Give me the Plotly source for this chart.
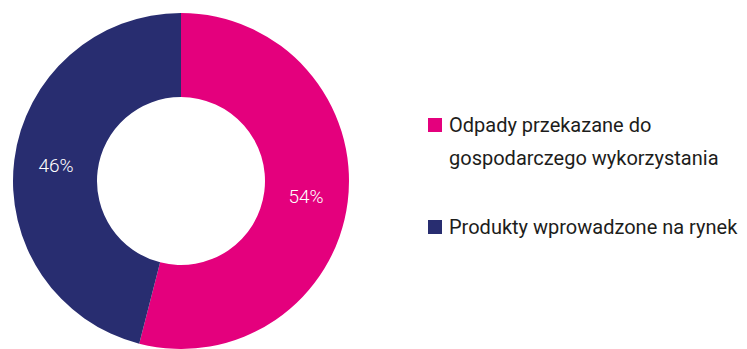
import plotly.graph_objects as go

W, H = 747, 349

labels = ["Odpady przekazane do gospodarczego wykorzystania", "Produkty wprowadzone na rynek"]
values = [54, 46]
colors = ["#E4007D", "#282D70"]
legend_lines = [["Odpady przekazane do", "gospodarczego wykorzystania"],
                ["Produkty wprowadzone na rynek"]]


def px_x(x):
    return x / W


def px_y(y):
    return 1 - y / H


fig = go.Figure()
fig.add_trace(go.Pie(
    labels=labels,
    values=values,
    hole=0.5,
    sort=False,
    direction="clockwise",
    rotation=0,
    marker=dict(colors=colors, line=dict(width=0)),
    texttemplate="%{percent:.0%}",
    textposition="inside",
    insidetextorientation="horizontal",
    textfont=dict(family="Roboto", size=19, color="white", weight=300),
    domain=dict(x=[px_x(12), px_x(350)], y=[0, px_y(13)]),
    showlegend=False,
))

# legend drawn by hand (two-line entry with wide line spacing)
sq_top = [118, 220]
line_y = [[125, 158], [227]]
for i, lines in enumerate(legend_lines):
    fig.add_shape(type="rect", xref="paper", yref="paper",
                  x0=px_x(428), x1=px_x(442), y0=px_y(sq_top[i]), y1=px_y(sq_top[i] + 14),
                  fillcolor=colors[i], line=dict(width=0))
    for j, txt in enumerate(lines):
        fig.add_annotation(text=txt, xref="paper", yref="paper",
                           x=px_x(447), y=px_y(line_y[i][j]),
                           xanchor="left", yanchor="middle", showarrow=False,
                           font=dict(family="Roboto", size=20, color="#1d1d1b"))

fig.update_layout(
    width=W, height=H,
    margin=dict(l=0, r=0, t=0, b=0),
    paper_bgcolor="white",
    plot_bgcolor="white",
)

fig.write_html("out.html", config={"displayModeBar": False},
               post_script="document.body.style.margin='0';")
